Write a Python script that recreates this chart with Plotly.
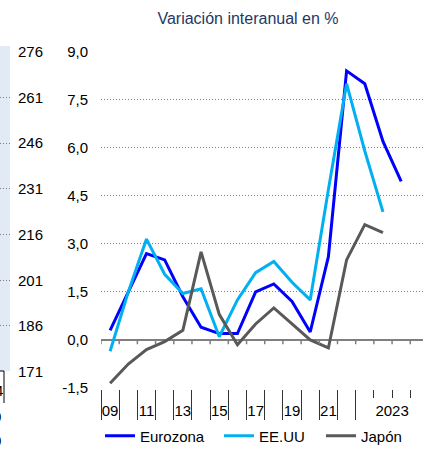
import plotly.graph_objects as go

W, H = 423, 451

# Categories: annual 2009-2022, then the four quarters of 2023
periods = [str(y) for y in range(2009, 2023)] + ["2023T1", "2023T2", "2023T3", "2023T4"]

eurozona = [0.3, 1.5, 2.7, 2.5, 1.35, 0.4, 0.2, 0.2, 1.5, 1.75, 1.2, 0.25, 2.6, 8.4, 8.0, 6.2, 4.95]
eeuu = [-0.35, 1.5, 3.15, 2.05, 1.45, 1.6, 0.1, 1.25, 2.1, 2.45, 1.8, 1.25, 4.7, 8.0, 5.9, 4.0]
japon = [-1.35, -0.75, -0.3, -0.05, 0.3, 2.75, 0.8, -0.15, 0.5, 1.0, 0.5, 0.0, -0.25, 2.5, 3.6, 3.35]

x_tick_pos = [0, 2, 4, 6, 8, 10, 12, 15.5]
x_tick_text = ["09", "11", "13", "15", "17", "19", "21", "2023"]

y_tick_vals = [-1.5, 0, 1.5, 3, 4.5, 6, 7.5, 9]
y_tick_text = ["-1,5", "0,0", "1,5", "3,0", "4,5", "6,0", "7,5", "9,0"]

# neighbouring panel's axis (only its labels are visible at the left edge)
left_vals = [171, 186, 201, 216, 231, 246, 261, 276]

FONT = "Liberation Sans, Arial, sans-serif"
GRID = "#808080"
DOTS = "1px,2px"


def px_x(p):
    return p / W


def px_y(p):
    return 1 - p / H


idx = list(range(len(periods)))

fig = go.Figure()
series = [
    ("Eurozona", eurozona, "#0000ff", "legend"),
    ("EE.UU", eeuu, "#00b0f0", "legend2"),
    ("Japón", japon, "#595959", "legend3"),
]
for name, vals, col, leg in series:
    fig.add_trace(go.Scatter(
        x=idx[:len(vals)], y=vals, name=name, mode="lines",
        line=dict(color=col, width=3), legend=leg,
        hoverinfo="skip",
    ))

annual_bounds = [i - 0.5 for i in range(0, 15)]     # long separators
quarter_bounds = [14.5, 15.5, 16.5]                  # short separators inside 2023
all_bounds = [i - 0.5 for i in range(0, 18)]

x_range = [-0.5, 17.2]
y_range = [-1.53, 9.03]

shapes = []
# small ticks hanging from the zero line
for b in all_bounds:
    shapes.append(dict(type="line", xref="x", yref="y", x0=b, x1=b, y0=0, y1=-0.13,
                       line=dict(color="#7f7f7f", width=1.5)))
# light strip of the neighbouring panel
shapes.append(dict(type="rect", xref="paper", yref="paper", layer="below",
                   x0=0, x1=px_x(10), y0=px_y(371), y1=px_y(46),
                   fillcolor="#e2eaf5", line=dict(width=0)))
shapes.append(dict(type="line", xref="paper", yref="paper",
                   x0=0, x1=px_x(4), y0=px_y(371), y1=px_y(371),
                   line=dict(color="#000", width=1)))
shapes.append(dict(type="line", xref="paper", yref="paper",
                   x0=px_x(4), x1=px_x(4), y0=px_y(371), y1=px_y(403),
                   line=dict(color="#000", width=1)))

annotations = [
    dict(text="4", xref="paper", yref="paper", x=px_x(5), y=px_y(390),
         xanchor="right", yanchor="middle", showarrow=False,
         font=dict(family=FONT, size=15, color="#000")),
    dict(text="0", xref="paper", yref="paper", x=px_x(3), y=px_y(416),
         xanchor="right", yanchor="middle", showarrow=False,
         font=dict(family=FONT, size=15, color="#000")),
    dict(text="0", xref="paper", yref="paper", x=px_x(3), y=px_y(440),
         xanchor="right", yanchor="middle", showarrow=False,
         font=dict(family=FONT, size=15, color="#000")),
]

fig.update_layout(
    width=W, height=H,
    margin=dict(l=0, r=0, t=0, b=0, autoexpand=False),
    paper_bgcolor="white", plot_bgcolor="white",
    font=dict(family=FONT, size=15, color="#000"),
    title=dict(text="Variación interanual en %", xref="container", yref="container",
               x=248 / W, y=1 - 18 / H, xanchor="center", yanchor="middle",
               font=dict(family=FONT, size=16, color="#1f3864")),
    xaxis=dict(domain=[101 / W, 1], range=x_range, anchor="y",
               showgrid=False, zeroline=False, showline=False,
               tickmode="array", tickvals=x_tick_pos, ticktext=x_tick_text,
               ticks="", ticklabelstandoff=11,
               tickfont=dict(family=FONT, size=15, color="#000"),
               minor=dict(tickmode="array", tickvals=annual_bounds, ticks="outside",
                          ticklen=30, tickwidth=1, tickcolor="#333", showgrid=False)),
    xaxis2=dict(domain=[101 / W, 1], range=x_range, anchor="y", overlaying="x",
                side="bottom", showgrid=False, zeroline=False, showline=False,
                tickmode="array", tickvals=quarter_bounds, ticks="outside",
                ticklen=8, tickwidth=1, tickcolor="#333", showticklabels=False),
    yaxis=dict(domain=[62 / H, 400.3 / H], range=y_range, anchor="x",
               tickmode="array", tickvals=y_tick_vals, ticktext=y_tick_text,
               showgrid=True, gridcolor=GRID, griddash=DOTS, gridwidth=1,
               zeroline=True, zerolinecolor="#7f7f7f", zerolinewidth=2,
               showline=False, ticks="", ticklabelstandoff=12,
               tickfont=dict(family=FONT, size=15, color="#000")),
    xaxis3=dict(domain=[0, 10 / W], range=[0, 1], anchor="y3",
                showgrid=False, zeroline=False, showline=False,
                showticklabels=False, ticks=""),
    yaxis3=dict(domain=[(H - 371.7) / H, (H - 51.7) / H], range=[171, 276],
                anchor="x3", side="right",
                tickmode="array", tickvals=left_vals,
                showgrid=True, gridcolor=GRID, griddash=DOTS, gridwidth=1,
                zeroline=False, showline=False, ticks="", ticklabelstandoff=7,
                tickfont=dict(family=FONT, size=15, color="#000")),
    legend=dict(orientation="h", x=px_x(100), y=px_y(436), xanchor="left",
                yanchor="middle", font=dict(family=FONT, size=15, color="#000"),
                bgcolor="rgba(0,0,0,0)"),
    legend2=dict(orientation="h", x=px_x(219), y=px_y(436), xanchor="left",
                 yanchor="middle", font=dict(family=FONT, size=15, color="#000"),
                 bgcolor="rgba(0,0,0,0)"),
    legend3=dict(orientation="h", x=px_x(321), y=px_y(436), xanchor="left",
                 yanchor="middle", font=dict(family=FONT, size=15, color="#000"),
                 bgcolor="rgba(0,0,0,0)"),
    shapes=shapes,
    annotations=annotations,
    showlegend=True,
)

# keep the overlay and side axes drawn even without their own traces
fig.add_trace(go.Scatter(x=[None], y=[None], xaxis="x2", yaxis="y", showlegend=False,
                         hoverinfo="skip"))
fig.add_trace(go.Scatter(x=[None], y=[None], xaxis="x3", yaxis="y3", showlegend=False,
                         hoverinfo="skip"))

fig.write_html("out.html")
